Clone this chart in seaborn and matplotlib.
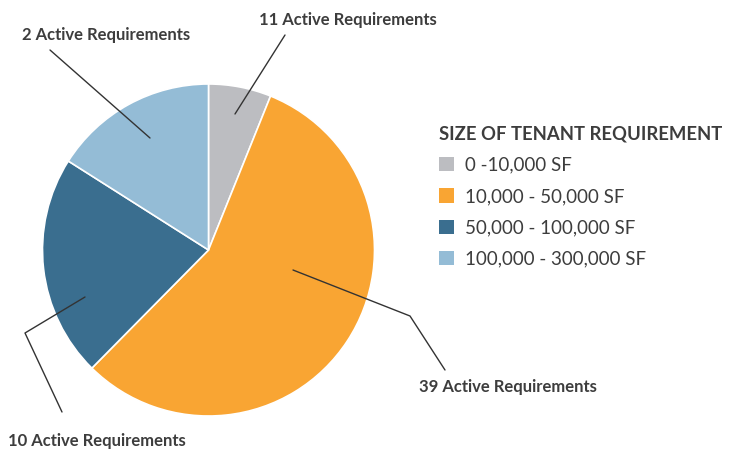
import matplotlib
matplotlib.use("Agg")
import matplotlib.pyplot as plt
import seaborn as sns
from matplotlib.patches import Patch

sns.set_theme(style="white")
plt.rcParams["font.family"] = ["Lato", "DejaVu Sans"]

# share of each size band
size_bands = ["0 -10,000 SF", "10,000 - 50,000 SF", "50,000 - 100,000 SF", "100,000 - 300,000 SF"]
shares = [6.1, 56.3, 21.6, 16.0]
req_labels = ["11 Active Requirements", "39 Active Requirements",
              "10 Active Requirements", "2 Active Requirements"]
colors = ["#bcbdc1", "#f9a533", "#3a6e8f", "#94bcd6"]

TXT = "#3d3d3d"
W, H = 741, 450

fig = plt.figure(figsize=(W / 100, H / 100), dpi=100)
cx, cy, r = 208.5, 250, 166
ax = fig.add_axes([(cx - r) / W, (H - cy - r) / H, 2 * r / W, 2 * r / H])

pal = sns.color_palette(colors)
wedges, _ = ax.pie(shares, colors=pal, startangle=90, counterclock=False,
                   wedgeprops=dict(edgecolor="white", linewidth=1.2))
ax.set_xlim(-1, 1)
ax.set_ylim(-1, 1)
ax.set_aspect("equal")
ax.axis("off")


def px(x, y):
    # figure pixel (from top-left) -> pie data coords
    return (x - cx) / r, (cy - y) / r


# leader lines: point inside slice -> optional elbow -> end near label
leaders = [
    [(235, 114), (285, 35)],
    [(293, 270), (410, 316), (445, 370)],
    [(85, 297), (25, 333), (62, 412)],
    [(150, 138), (50, 50)],
]
label_pos = [(348, 20), (508, 387), (97, 441), (106, 35)]

for pts, lab, (tx, ty) in zip(leaders, req_labels, label_pos):
    xs, ys = zip(*[px(*p) for p in pts])
    ax.plot(xs, ys, color="#333333", lw=1.0, clip_on=False)
    fig.text(tx / W, 1 - ty / H, lab, ha="center", va="center",
             fontsize=12, fontweight="bold", color=TXT)

handles = [Patch(facecolor=c, edgecolor="none") for c in pal]
leg = fig.legend(handles, size_bands, loc="upper left",
                 bbox_to_anchor=(432 / W, 1 - 118 / H), frameon=False,
                 title="SIZE OF TENANT REQUIREMENT", alignment="left",
                 fontsize=13.5, handlelength=0.8, handleheight=0.8,
                 handletextpad=0.55, labelspacing=0.76, borderaxespad=0)
leg.get_title().set_fontsize(13.3)
leg.get_title().set_fontweight("bold")
leg.get_title().set_color(TXT)
for t in leg.get_texts():
    t.set_color(TXT)

fig.savefig("out.png", dpi=100)
